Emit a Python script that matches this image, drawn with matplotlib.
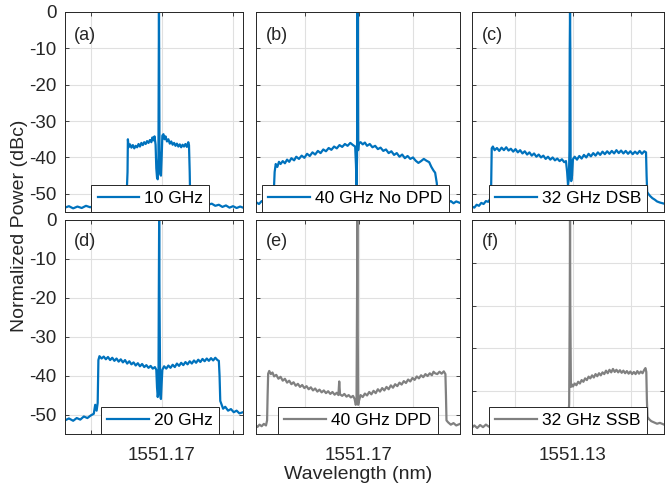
import matplotlib.pyplot as plt

plt.rcParams['font.family'] = ['Liberation Sans', 'DejaVu Sans']
plt.rcParams['axes.unicode_minus'] = False

blue = '#0072BD'
gray = '#808080'

# wavelength offsets (pm) from the labelled centre tick, and power (dBc)
a_pm = [-273, -262, -250, -238, -226, -214, -202, -190, -178, -166, -154, -142, -130, -118, -108, -100,
        -97, -96, -94, -90, -86, -82, -78, -74, -70, -66, -62, -58, -54, -50, -46, -42, -38, -34, -30,
        -27, -24, -21, -18, -16, -14, -12, -10, -9, -8.5, -8, -7, -5, -3, -1, 1, 4, 7, 10, 14, 18, 22,
        26, 30, 34, 38, 42, 46, 50, 54, 58, 62, 66, 70, 74, 76, 78, 79, 82, 86, 92, 100, 110, 120, 130,
        140, 150, 160, 170, 180, 190, 200, 210, 220, 228]
a_db = [-53.8, -53.4, -54.0, -53.5, -53.9, -53.3, -53.7, -53.2, -53.6, -53.0, -53.4, -52.9, -53.3, -52.8,
        -52.5, -51.5, -44.0, -35.0, -37.2, -36.4, -37.3, -36.6, -37.5, -36.8, -37.2, -36.3, -37.0, -36.0,
        -36.6, -35.8, -36.3, -35.5, -36.0, -35.2, -35.8, -34.5, -35.3, -34.2, -36.5, -43.0, -45.5, -46.0,
        -40.0, -10, 0, -10, -38.0, -44.5, -45.0, -40.0, -34.0, -33.6, -35.0, -34.2, -35.6, -35.0, -36.2,
        -35.6, -36.5, -36.0, -36.8, -36.2, -37.0, -36.4, -37.2, -36.5, -37.0, -36.3, -37.1, -35.8, -36.6,
        -44.0, -49.5, -50.5, -51.0, -51.5, -52.0, -52.6, -52.3, -53.0, -52.7, -53.3, -53.0, -53.6, -53.2,
        -53.8, -53.4, -53.9, -53.5, -53.8]

b_pm = [-381, -370, -360, -350, -340, -330, -325, -318, -314, -312, -308, -302, -296, -290, -282, -274,
        -266, -258, -250, -240, -232, -222, -212, -202, -192, -182, -172, -162, -152, -142, -132, -122,
        -112, -102, -92, -82, -72, -62, -52, -42, -32, -22, -14, -11, -9, -7, -6, -5, -4, -3, -1, 6, 14,
        22, 30, 40, 50, 60, 70, 80, 90, 100, 110, 120, 130, 140, 150, 160, 170, 180, 190, 200, 210, 220,
        230, 240, 250, 260, 268, 276, 282, 288, 292, 300, 310, 320, 330, 340, 350, 360, 374]
b_db = [-52.3, -52.8, -52.0, -52.5, -51.8, -52.2, -51.5, -50.5, -47.5, -44.0, -41.8, -42.6, -41.2, -41.8,
        -41.0, -41.6, -40.6, -41.2, -40.2, -40.8, -39.8, -40.4, -39.5, -40.1, -39.0, -39.6, -38.6, -39.2,
        -38.2, -38.8, -37.8, -38.3, -37.4, -37.9, -37.0, -37.5, -36.6, -37.1, -36.3, -36.8, -36.0, -36.6,
        -37.0, -42.0, -47.5, -40.0, -10, 0, -10, -38.0, -36.2, -35.8, -36.4, -35.9, -36.8, -36.3, -37.2,
        -36.8, -37.7, -37.3, -38.2, -37.8, -38.8, -38.3, -39.3, -38.8, -39.8, -39.2, -40.2, -39.6, -40.4,
        -40.0, -40.9, -41.5, -41.0, -40.4, -40.9, -41.3, -42.6, -43.6, -44.2, -47.0, -50.5, -52.0, -52.5,
        -51.8, -52.4, -52.0, -52.6, -52.1, -52.5]

c_pm = [-348, -340, -332, -324, -316, -308, -300, -292, -286, -282, -280, -276, -270, -262, -254, -246,
        -238, -230, -222, -214, -206, -198, -190, -182, -174, -166, -158, -150, -142, -134, -126, -118,
        -110, -102, -94, -86, -78, -70, -62, -54, -46, -38, -30, -24, -20, -17, -14, -12, -11, -10, -9,
        -8, -6, -3, 0, 6, 14, 22, 30, 38, 46, 54, 62, 70, 78, 86, 94, 102, 110, 118, 126, 134, 142, 150,
        158, 166, 174, 182, 190, 198, 206, 214, 222, 230, 238, 246, 252, 254, 256, 260, 266, 274, 282,
        290, 300, 314]
c_db = [-53.5, -53.8, -53.0, -53.3, -52.5, -52.8, -52.0, -52.2, -51.5, -48.0, -37.5, -37.0, -38.0, -37.4,
        -38.2, -37.3, -38.0, -37.2, -38.1, -37.6, -38.4, -37.7, -38.6, -38.0, -38.9, -38.3, -39.2, -38.6,
        -39.5, -38.9, -39.8, -39.2, -40.0, -39.5, -40.4, -39.8, -40.6, -40.0, -40.8, -40.3, -41.0, -40.5,
        -41.3, -41.0, -44.0, -47.5, -46.0, -38.0, -10, 0, -10, -40.0, -46.5, -45.0, -40.5, -39.8, -40.6,
        -39.6, -40.3, -39.3, -40.0, -39.0, -39.7, -38.8, -39.5, -38.6, -39.3, -38.4, -39.1, -38.3, -39.0,
        -38.2, -38.9, -38.0, -38.8, -38.1, -38.9, -38.2, -39.0, -38.3, -39.1, -38.4, -39.0, -38.2, -39.0,
        -38.3, -38.6, -45.0, -49.5, -50.0, -50.6, -51.2, -51.6, -52.1, -52.4, -52.7]

d_pm = [-273, -262, -250, -240, -230, -220, -210, -200, -192, -188, -184, -181, -179, -176, -170, -164,
        -158, -152, -146, -140, -134, -128, -122, -116, -110, -104, -98, -92, -86, -80, -74, -68, -62,
        -56, -50, -44, -38, -32, -26, -20, -16, -14, -12, -10, -9, -8, -7, -5, -3, -1, 1, 6, 12, 18, 24,
        30, 36, 42, 48, 54, 60, 66, 72, 78, 84, 90, 96, 102, 108, 114, 120, 126, 132, 138, 144, 150, 156,
        160, 162, 164, 168, 172, 178, 186, 194, 202, 210, 218, 228]
d_db = [-51.5, -51.0, -51.6, -50.9, -51.3, -50.5, -50.9, -50.2, -49.8, -47.5, -49.0, -47.0, -36.0, -35.0,
        -35.6, -35.1, -35.8, -35.2, -36.0, -35.4, -36.2, -35.6, -36.4, -35.8, -36.6, -36.0, -36.9, -36.3,
        -37.1, -36.6, -37.4, -36.8, -37.6, -37.0, -37.8, -37.3, -38.0, -37.5, -38.2, -37.8, -38.5, -43.0,
        -45.5, -44.0, -20, 0, -20, -45.0, -46.0, -42.0, -38.5, -37.6, -38.2, -37.4, -38.0, -37.2, -37.8,
        -36.9, -37.5, -36.7, -37.3, -36.5, -37.1, -36.3, -36.9, -36.1, -36.7, -35.9, -36.5, -35.7, -36.3,
        -35.6, -36.2, -35.5, -36.1, -35.4, -36.0, -36.2, -40.0, -46.5, -47.5, -48.5, -48.0, -49.0, -48.6,
        -49.4, -49.0, -49.7, -49.4]

e_pm = [-381, -376, -368, -360, -352, -344, -340, -338, -336, -332, -326, -320, -314, -306, -298, -290,
        -282, -274, -266, -258, -250, -242, -234, -226, -218, -210, -202, -194, -186, -178, -170, -162,
        -154, -146, -138, -130, -122, -114, -106, -98, -90, -82, -76, -73, -70, -62, -54, -46, -38, -30,
        -22, -16, -12, -9, -7, -6, -5, -3, 0, 6, 14, 22, 30, 38, 46, 54, 62, 70, 78, 86, 94, 102, 110, 118,
        126, 134, 142, 150, 158, 166, 174, 182, 190, 198, 206, 214, 222, 230, 238, 246, 254, 262, 270,
        276, 282, 290, 298, 306, 314, 320, 322, 324, 330, 340, 350, 360, 374]
e_db = [-52.8, -53.2, -52.6, -53.0, -52.4, -52.8, -51.5, -45.0, -39.5, -38.8, -39.6, -39.2, -40.2, -39.8,
        -40.8, -40.3, -41.3, -40.8, -41.8, -41.3, -42.2, -41.7, -42.6, -42.1, -42.9, -42.4, -43.2, -42.7,
        -43.5, -43.0, -43.8, -43.3, -44.1, -43.6, -44.3, -43.8, -44.5, -44.0, -44.7, -44.2, -44.9, -44.4,
        -45.0, -41.5, -44.8, -45.2, -44.7, -45.4, -45.0, -45.6, -45.2, -46.0, -47.5, -47.0, -20, 0, -20,
        -47.5, -46.5, -45.0, -45.5, -44.6, -45.1, -44.2, -44.8, -43.9, -44.5, -43.5, -44.1, -43.2, -43.8,
        -42.9, -43.5, -42.5, -43.1, -42.2, -42.7, -41.8, -42.3, -41.4, -41.9, -41.0, -41.5, -40.6, -41.1,
        -40.2, -40.7, -39.9, -40.4, -39.6, -40.1, -39.4, -39.9, -39.0, -39.4, -39.6, -39.0, -39.5, -38.9,
        -39.6, -45.0, -51.5, -52.0, -52.6, -52.2, -52.8, -52.4]

f_pm = [-348, -340, -330, -320, -310, -300, -290, -280, -270, -260, -250, -240, -230, -220, -210, -200,
        -190, -180, -170, -160, -150, -140, -130, -120, -110, -100, -90, -80, -70, -60, -50, -40, -30,
        -22, -16, -13, -11, -10, -9, -7, -4, 0, 6, 12, 18, 24, 30, 36, 42, 48, 54, 60, 66, 72, 78, 84, 90,
        96, 102, 108, 114, 120, 126, 132, 138, 144, 150, 156, 162, 168, 174, 180, 186, 192, 198, 204, 210,
        216, 222, 228, 234, 240, 246, 250, 253, 255, 257, 262, 270, 280, 290, 300, 314]
f_db = [-48.5, -48.0, -48.6, -47.9, -48.4, -47.8, -48.3, -47.7, -48.2, -47.8, -48.4, -47.9, -48.5, -48.0,
        -48.6, -48.1, -48.7, -48.2, -48.8, -48.3, -48.9, -48.4, -48.9, -48.5, -49.0, -48.6, -49.0, -48.7,
        -49.1, -48.7, -49.0, -48.6, -48.8, -48.2, -46.0, -43.0, -20, 0, -20, -39.0, -38.4, -38.9, -38.2,
        -38.6, -37.8, -38.2, -37.4, -37.8, -37.0, -37.4, -36.6, -37.0, -36.3, -36.8, -36.0, -36.5, -35.8,
        -36.3, -35.6, -36.0, -35.2, -35.8, -35.0, -35.6, -34.8, -35.5, -35.0, -35.6, -35.1, -35.7, -35.2,
        -35.8, -35.3, -35.9, -35.4, -36.0, -35.5, -36.0, -35.3, -35.9, -35.4, -35.8, -35.0, -34.6, -35.5,
        -42.0, -46.0, -46.5, -47.0, -47.3, -47.6, -47.4, -47.8]

centres = [1551.17, 1551.17, 1551.13]
centre_labels = ['1551.17', '1551.17', '1551.13']
xlims_pm = [(-273, 228), (-381, 374), (-348, 314)]

panels = [
    ('(a)', '10 GHz', a_pm, a_db, blue, 0, 0, 0.48),
    ('(b)', '40 GHz No DPD', b_pm, b_db, blue, 0, 1, 0.488),
    ('(c)', '32 GHz DSB', c_pm, c_db, blue, 0, 2, 0.5),
    ('(d)', '20 GHz', d_pm, d_db, blue, 1, 0, 0.534),
    ('(e)', '40 GHz DPD', e_pm, e_db, gray, 1, 1, 0.5),
    ('(f)', '32 GHz SSB', f_pm, f_db, gray, 1, 2, 0.5),
]

col_left = [65 / 665, 256 / 665, 472 / 665]
col_w = [178 / 665, 204 / 665, 192 / 665]
row_bot = [279 / 491, 57 / 491]
row_h = [200 / 491, 214 / 491]

fig = plt.figure(figsize=(6.65, 4.91), dpi=100)
axes = {}
for tag, name, pm, db, col, r, c, lx in panels:
    ax = fig.add_axes([col_left[c], row_bot[r], col_w[c], row_h[r]])
    axes[tag] = ax
    x = [centres[c] + p / 1000 for p in pm]
    ax.plot(x, db, color=col, lw=1.6, label=name)
    ax.set_xlim(centres[c] + xlims_pm[c][0] / 1000, centres[c] + xlims_pm[c][1] / 1000)
    if tag == '(f)':
        ax.set_ylim(-50, 0)
    else:
        ax.set_ylim(-55, 0)
    ax.set_yticks([0, -10, -20, -30, -40, -50])
    ax.set_xticks([centres[c] - 0.2, centres[c], centres[c] + 0.2])
    if r == 1:
        ax.set_xticklabels(['', centre_labels[c], ''])
    else:
        ax.set_xticklabels([])
    if c != 0:
        ax.set_yticklabels([])
    ax.grid(True, color='#e0e0e0', lw=0.8)
    ax.set_axisbelow(True)
    ax.tick_params(direction='in', length=3, width=0.6, top=True, right=True,
                   labelsize=13.5, colors='#262626', pad=6)
    ax.tick_params(axis='x', pad=9)
    for s in ax.spines.values():
        s.set_color('#262626')
        s.set_linewidth(0.7)
    ax.text(0.05, 0.88 if r == 0 else 0.9, tag, transform=ax.transAxes, fontsize=13,
            va='center', ha='left', color='#262626')
    leg = ax.legend(loc='lower center', bbox_to_anchor=(lx, 0), borderaxespad=0,
                    fontsize=12.5, fancybox=False, framealpha=1, handlelength=2.4,
                    handletextpad=0.3, borderpad=0.35)
    leg.get_frame().set_edgecolor('#262626')
    leg.get_frame().set_linewidth(0.7)

axes['(e)'].set_xlabel('Wavelength (nm)', fontsize=14, color='#262626', labelpad=2)
fig.text(20 / 665, 1 - 226 / 491, 'Normalized Power (dBc)', rotation=90, fontsize=14,
         va='center', ha='center', color='#262626')

plt.savefig('out.png', dpi=100)
